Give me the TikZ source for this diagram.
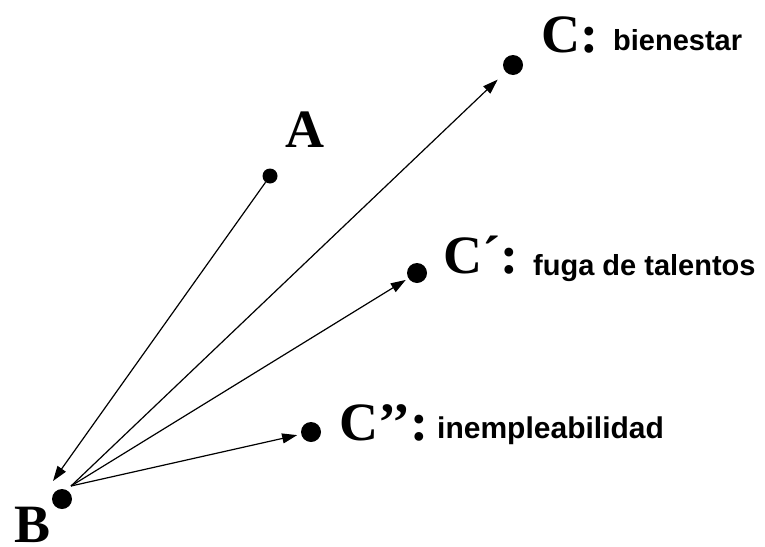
\documentclass[tikz,border=0pt]{standalone}
\usepackage{fontspec}
\setmainfont{Liberation Serif}
\setsansfont{Liberation Sans}
\usetikzlibrary{arrows.meta}
\begin{document}
\begin{tikzpicture}[x=1pt,y=-1pt,
  dot/.style={circle,fill=black,inner sep=0pt,minimum size=#1},
  dot/.default=20pt,
  big/.style={font=\fontsize{54}{60}\selectfont\bfseries,inner sep=0pt,anchor=base west},
  lbl/.style={font=\sffamily\fontsize{#1}{34}\selectfont\bfseries,inner sep=0pt,anchor=base west},
  lbl/.default=29,
  arr/.style={line width=1.2pt,-{Triangle[length=15pt,width=10pt]}}]
\useasboundingbox (0,0) rectangle (765,546);
% dots
\node[dot] (B) at (62,499) {};
\node[dot=15pt] (A) at (270,176) {};
\node[dot] (C) at (513,65) {};
\node[dot] (C1) at (417,273) {};
\node[dot] (C2) at (311,432) {};
\coordinate (Bs) at (71,486);
\coordinate (Bt) at (53,481);
% labels
\node[big] (tA) at (285,147) {A};
\node[big] (tB) at (14,542) {B};
\node[big] (tC) at (541,52) {C:};
\node[lbl] (lC) at (613,50) {bienestar};
\node[big] (tC1) at (443,273) {C´:};
\node[lbl] (lC1) at (533,275) {fuga de talentos};
\node[big] (tC2) at (339,440) {C’’:};
\node[lbl=30] (lC2) at (437,438) {inempleabilidad};
% arrows
\draw[arr] (A) -- (Bt);
\draw[arr,shorten >=11pt] (Bs) -- (C);
\draw[arr,shorten >=3pt] (Bs) -- (C1);
\draw[arr,shorten >=4pt] (Bs) -- (C2);
\end{tikzpicture}
\end{document}
